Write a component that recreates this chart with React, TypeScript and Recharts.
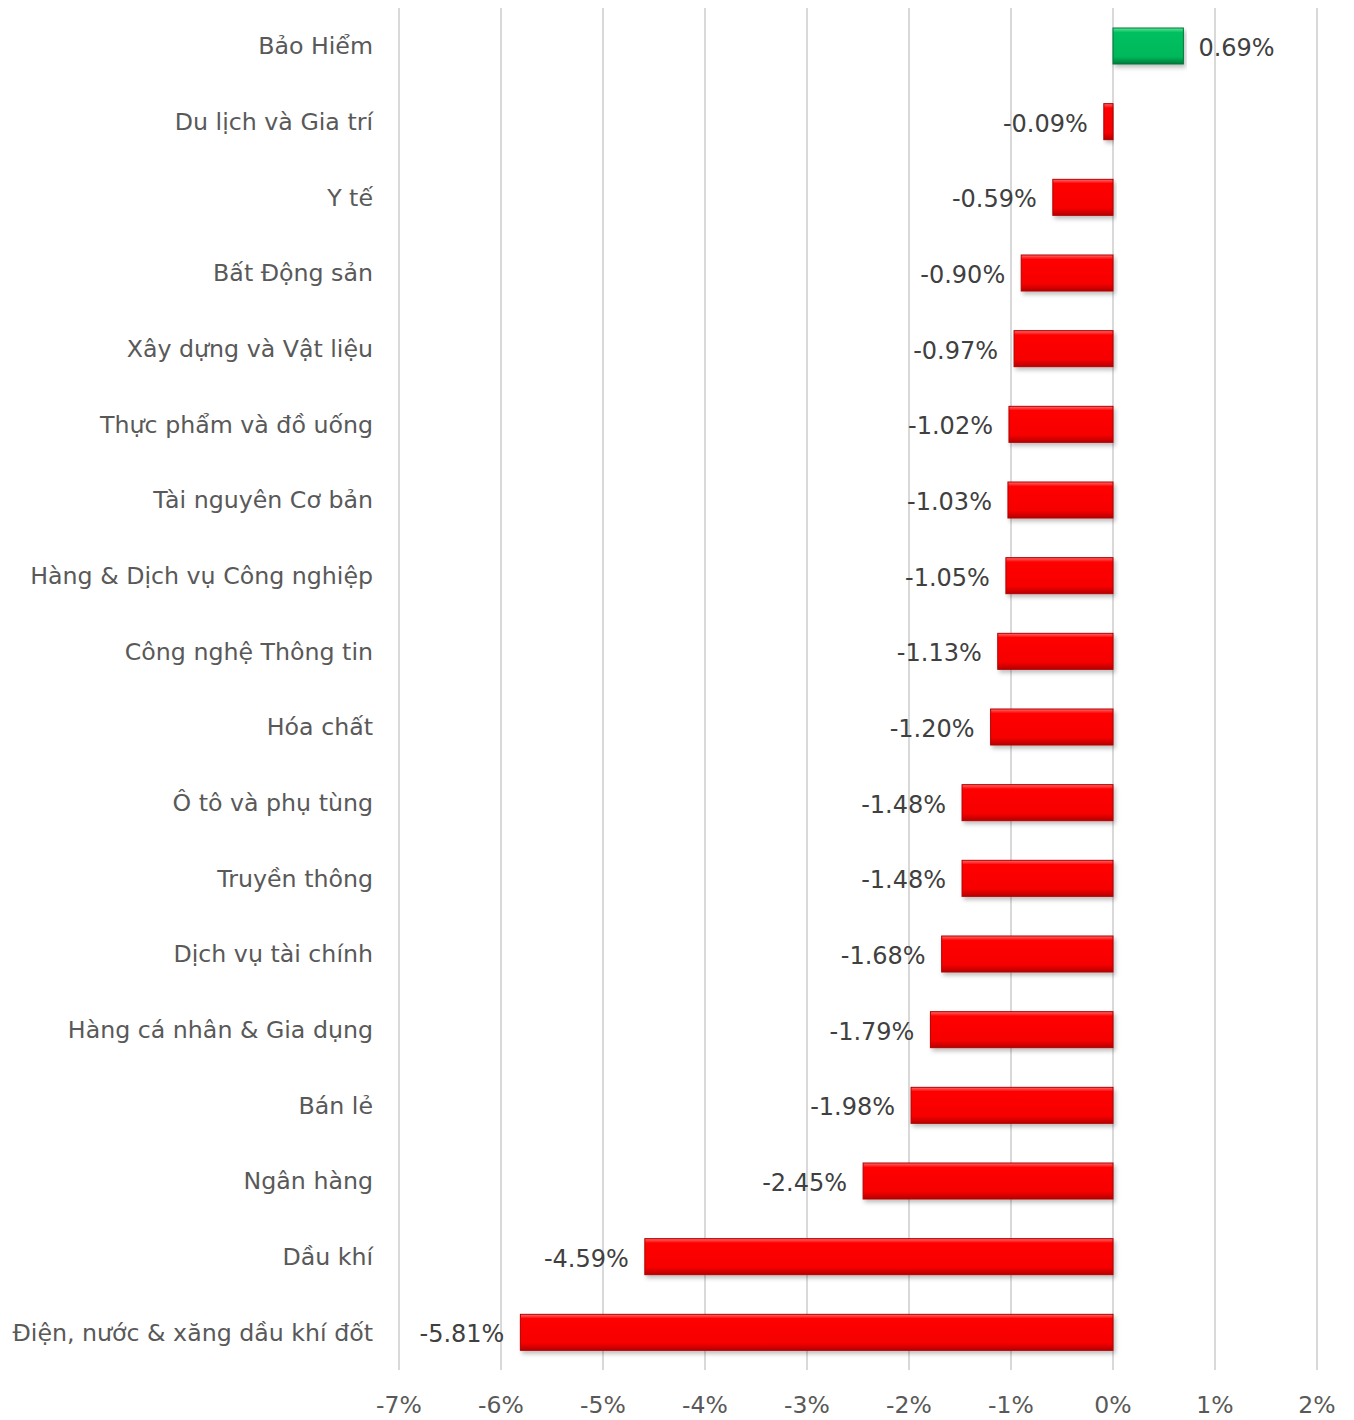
import { Bar, BarChart, CartesianGrid, LabelList, XAxis, YAxis } from "recharts";

const sectors = [
  "Bảo Hiểm",
  "Du lịch và Gia trí",
  "Y tế",
  "Bất Động sản",
  "Xây dựng và Vật liệu",
  "Thực phẩm và đồ uống",
  "Tài nguyên Cơ bản",
  "Hàng & Dịch vụ Công nghiệp",
  "Công nghệ Thông tin",
  "Hóa chất",
  "Ô tô và phụ tùng",
  "Truyền thông",
  "Dịch vụ tài chính",
  "Hàng cá nhân & Gia dụng",
  "Bán lẻ",
  "Ngân hàng",
  "Dầu khí",
  "Điện, nước & xăng dầu khí đốt",
];

const changes = [
  0.69, -0.09, -0.59, -0.9, -0.97, -1.02, -1.03, -1.05, -1.13, -1.2, -1.48, -1.48, -1.68, -1.79, -1.98, -2.45,
  -4.59, -5.81,
];

const xTicks = [-7, -6, -5, -4, -3, -2, -1, 0, 1, 2];

const data = sectors.map((name, i) => ({ name, value: changes[i] }));

const FONT = "'DejaVu Sans', Verdana, sans-serif";

// bar with a little bevel, like the excel style
function BevelBar(props: any) {
  const { x, y, width, height, value } = props;
  const left = width < 0 ? x + width : x;
  const w = Math.abs(width);
  const pos = value >= 0;
  const fill = pos ? "url(#gUp)" : "url(#gDown)";
  const edge = pos ? "#00753a" : "#b00000";
  return (
    <g filter="url(#shadow)">
      <rect x={left} y={y} width={w} height={height} fill={fill} stroke={edge} strokeWidth={1} />
    </g>
  );
}

function ValueLabel(props: any) {
  const { x, y, width, height, value } = props;
  const right = Math.max(x, x + width);
  const left = Math.min(x, x + width);
  const pos = value >= 0;
  return (
    <text
      x={pos ? right + 15 : left - 16}
      y={y + height / 2 + 3}
      textAnchor={pos ? "start" : "end"}
      dominantBaseline="middle"
      fontSize={24}
      fill="#404040"
      fontFamily={FONT}
    >
      {value.toFixed(2) + "%"}
    </text>
  );
}

export default function App() {
  return (
    <div>
      <style>{"body{margin:0}"}</style>
      <BarChart
        width={1354}
        height={1420}
        data={data}
        layout="vertical"
        margin={{ top: 8, right: 37, bottom: 0, left: 0 }}
      >
        <defs>
          <linearGradient id="gDown" x1="0" y1="0" x2="0" y2="1">
            <stop offset="0%" stopColor="#ff6a6a" />
            <stop offset="12%" stopColor="#ff0000" />
            <stop offset="80%" stopColor="#f60000" />
            <stop offset="100%" stopColor="#b50000" />
          </linearGradient>
          <linearGradient id="gUp" x1="0" y1="0" x2="0" y2="1">
            <stop offset="0%" stopColor="#5fe89a" />
            <stop offset="12%" stopColor="#06c061" />
            <stop offset="80%" stopColor="#04b85a" />
            <stop offset="100%" stopColor="#007a3a" />
          </linearGradient>
          <filter id="shadow" x="-5%" y="-20%" width="110%" height="150%">
            <feDropShadow dx="2" dy="3" stdDeviation="2" floodColor="#000" floodOpacity="0.25" />
          </filter>
        </defs>
        <CartesianGrid horizontal={false} stroke="#d9d9d9" strokeWidth={2} />
        <XAxis
          type="number"
          domain={[-7, 2]}
          ticks={xTicks}
          tickFormatter={(v) => v + "%"}
          axisLine={false}
          tickLine={false}
          tickMargin={20}
          height={50}
          interval={0}
          tick={{ fontSize: 23.5, fill: "#595959", fontFamily: FONT }}
        />
        <YAxis
          type="category"
          dataKey="name"
          width={399}
          axisLine={false}
          tickLine={false}
          tickSize={0}
          tickMargin={26}
          interval={0}
          tick={{ fontSize: 23.7, fill: "#595959", fontFamily: FONT }}
        />
        <Bar dataKey="value" barSize={36} shape={BevelBar} isAnimationActive={false}>
          <LabelList dataKey="value" content={ValueLabel} />
        </Bar>
      </BarChart>
    </div>
  );
}
